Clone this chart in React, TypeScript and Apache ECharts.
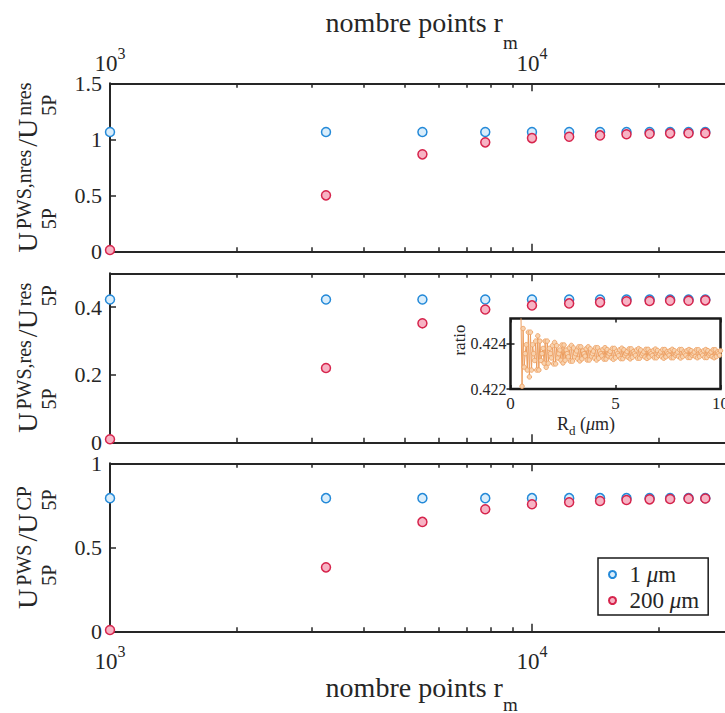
import React, { useEffect, useRef } from "react";
import * as echarts from "echarts";

const FONT = '"Liberation Serif", "Times New Roman", serif';
const INK = "#262626";
const FRAME = "#1a1a1a";
const BLUE_EDGE = "#2389d8";
const BLUE_FILL = "#d9edfb";
const RED_EDGE = "#d6244c";
const RED_FILL = "#f7b3c4";
const ORANGE_EDGE = "#ec9d5e";
const ORANGE_FILL = "#f8d2ae";

// ---------- data ----------
const rmPoints = [1000, 3250, 5500, 7750, 10000, 12250, 14500, 16750, 19000, 21250, 23500, 25750];
const seriesNames = ["1 μm", "200 μm"];

const nresBlue = [1.066, 1.066, 1.066, 1.066, 1.066, 1.066, 1.066, 1.066, 1.066, 1.066, 1.066, 1.066];
const nresRed = [0.015, 0.502, 0.867, 0.974, 1.012, 1.024, 1.036, 1.046, 1.05, 1.054, 1.055, 1.056];

const resBlue = [0.4225, 0.4225, 0.4225, 0.4225, 0.4225, 0.4225, 0.4225, 0.4225, 0.4225, 0.4225, 0.4225, 0.4225];
const resRed = [0.009, 0.22, 0.352, 0.393, 0.405, 0.411, 0.414, 0.417, 0.418, 0.419, 0.419, 0.42];

const cpBlue = [0.793, 0.793, 0.793, 0.793, 0.793, 0.793, 0.793, 0.793, 0.793, 0.793, 0.793, 0.793];
const cpRed = [0.01, 0.382, 0.652, 0.727, 0.757, 0.769, 0.776, 0.782, 0.786, 0.788, 0.79, 0.791];

const X_MIN = 1000;
const X_MAX = 30000;
const xMajorTicks = [1000, 10000];
const xMinorTicks = [2000, 3000, 4000, 5000, 6000, 7000, 8000, 9000, 20000, 30000];
const nresTicks = [0, 0.5, 1, 1.5];
const resTicks = [0, 0.2, 0.4];
const cpTicks = [0, 0.5, 1];

// inset: ratio vs R_d (μm), sampled every 0.05 μm from 0.5 μm
const rdStart = 0.5;
const rdStep = 0.05;
const insetXTicks = [0, 5, 10];
const insetYTicks = [0.422, 0.424];
const insetRatio = [
  0.4251, 0.42212, 0.42465, 0.42296,
  0.42355, 0.42394, 0.42283, 0.42449, 0.42253, 0.42449, 0.42283, 0.42394,
  0.42355, 0.42325, 0.4241, 0.42283, 0.42433, 0.42283, 0.4241, 0.42325,
  0.42355, 0.42378, 0.42313, 0.4241, 0.42295, 0.4241, 0.42313, 0.42378,
  0.42355, 0.42336, 0.4239, 0.4231, 0.42404, 0.4231, 0.4239, 0.42336,
  0.42355, 0.42371, 0.42326, 0.42393, 0.42314, 0.42393, 0.42326, 0.42371,
  0.42355, 0.42341, 0.4238, 0.42322, 0.42391, 0.42322, 0.4238, 0.42341,
  0.42355, 0.42367, 0.42332, 0.42385, 0.42323, 0.42385, 0.42332, 0.42367,
  0.42355, 0.42344, 0.42376, 0.42327, 0.42385, 0.42327, 0.42376, 0.42344,
  0.42355, 0.42366, 0.42335, 0.42381, 0.42327, 0.42381, 0.42335, 0.42366,
  0.42355, 0.42345, 0.42373, 0.42331, 0.42381, 0.42331, 0.42373, 0.42345,
  0.42355, 0.42365, 0.42337, 0.42378, 0.4233, 0.42378, 0.42337, 0.42365,
  0.42355, 0.42346, 0.42372, 0.42333, 0.42379, 0.42333, 0.42372, 0.42346,
  0.42355, 0.42364, 0.42339, 0.42376, 0.42332, 0.42376, 0.42339, 0.42364,
  0.42355, 0.42347, 0.42371, 0.42335, 0.42377, 0.42335, 0.42371, 0.42347,
  0.42355, 0.42363, 0.4234, 0.42374, 0.42334, 0.42374, 0.4234, 0.42363,
  0.42355, 0.42347, 0.42369, 0.42337, 0.42375, 0.42337, 0.42369, 0.42347,
  0.42355, 0.42363, 0.42341, 0.42373, 0.42335, 0.42373, 0.42341, 0.42363,
  0.42355, 0.42348, 0.42368, 0.42337, 0.42374, 0.42337, 0.42368, 0.42348,
  0.42355, 0.42362, 0.42342, 0.42373, 0.42336, 0.42373, 0.42342, 0.42362,
  0.42355, 0.42348, 0.42368, 0.42338, 0.42373, 0.42338, 0.42368, 0.42348,
  0.42355, 0.42362, 0.42342, 0.42372, 0.42337, 0.42372, 0.42342, 0.42362,
  0.42355, 0.42348, 0.42368, 0.42338, 0.42373, 0.42338, 0.42368, 0.42348,
  0.42355, 0.42362, 0.42342, 0.42372, 0.42337, 0.42372, 0.42342, 0.42362,
  0.42355, 0.42348, 0.42368,
];

// ---------- layout ----------
const PANEL_LEFT = 110;
const PANEL_WIDTH = 623.3;

type Part = { main?: string; sup?: string; sub?: string };

const panels = [
  {
    top: 83.3, height: 168.4, min: 0, max: 1.5, ticks: nresTicks, blue: nresBlue, red: nresRed,
    label: [{ main: "U" }, { sup: "PWS,nres", sub: "5P" }, { main: "/U" }, { sup: "nres", sub: "5P" }] as Part[],
  },
  {
    top: 273.3, height: 169, min: 0, max: 0.5, ticks: resTicks, blue: resBlue, red: resRed,
    label: [{ main: "U" }, { sup: "PWS,res", sub: "5P" }, { main: "/U" }, { sup: "res", sub: "5P" }] as Part[],
  },
  {
    top: 463.3, height: 168.4, min: 0, max: 1, ticks: cpTicks, blue: cpBlue, red: cpRed,
    label: [{ main: "U" }, { sup: "PWS", sub: "5P" }, { main: "/U" }, { sup: "CP", sub: "5P" }] as Part[],
  },
];

function textWidth(text: string, size: number, style: string = "normal") {
  const el = new (echarts.graphic as any).Text({
    style: { text, fontSize: size, fontFamily: FONT, fontStyle: style },
  });
  return el.getBoundingRect().width;
}

function rotText(text: string, size: number, x: number, y: number) {
  return {
    type: "text",
    x,
    y,
    rotation: Math.PI / 2,
    silent: true,
    style: { text, fontSize: size, fontFamily: FONT, fill: INK, align: "left", verticalAlign: "middle" },
  };
}

function buildYLabel(parts: Part[], centerY: number) {
  const MAIN = 28;
  const SCR = 20;
  const GAP = 3;
  const X_MAIN = 27.5;
  const X_SUP = 24;
  const X_SUB = 48.5;
  const widths = parts.map((p) =>
    p.main ? textWidth(p.main, MAIN) : Math.max(textWidth(p.sup || "", SCR), textWidth(p.sub || "", SCR))
  );
  const total = widths.reduce((a, b) => a + b, 0) + GAP * (parts.length - 1);
  let y = centerY + total / 2;
  const els: any[] = [];
  parts.forEach((p, i) => {
    if (p.main) els.push(rotText(p.main, MAIN, X_MAIN, y));
    else {
      els.push(rotText(p.sup || "", SCR, X_SUP, y));
      els.push(rotText(p.sub || "", SCR, X_SUB, y));
    }
    y -= widths[i] + GAP;
  });
  return els;
}

function logAxis(grid: number, position: string, major: boolean, labels: boolean) {
  return {
    type: "log",
    logBase: 10,
    gridIndex: grid,
    position,
    min: X_MIN,
    max: X_MAX,
    axisLine: { show: major, lineStyle: { color: INK, width: 2 } },
    axisTick: {
      show: true,
      inside: true,
      length: major ? 8 : 4.5,
      customValues: major ? xMajorTicks : xMinorTicks,
      lineStyle: { color: INK, width: 1.5 },
    },
    axisLabel: {
      show: labels,
      customValues: xMajorTicks,
      margin: position === "top" ? 2 : 12,
      formatter: (v: number) => `{b|10}{s|${Math.round(Math.log10(v))}}`,
      rich: {
        b: { fontSize: 23, fontFamily: FONT, color: INK },
        s: { fontSize: 16, fontFamily: FONT, color: INK, padding: [0, 0, 20, 0] },
      },
    },
    splitLine: { show: false },
    minorTick: { show: false },
    minorSplitLine: { show: false },
  };
}

function scatter(name: string, ys: number[], xi: number, yi: number, edge: string, fill: string) {
  return {
    type: "scatter",
    name,
    xAxisIndex: xi,
    yAxisIndex: yi,
    data: rmPoints.map((x, i) => [x, ys[i]]),
    symbol: "circle",
    symbolSize: 9,
    clip: false,
    itemStyle: { color: fill, borderColor: edge, borderWidth: 1.5, opacity: 1 },
    emphasis: { disabled: true },
  };
}

function buildOption() {
  const grids: any[] = [];
  const xAxes: any[] = [];
  const yAxes: any[] = [];
  const series: any[] = [];
  const graphics: any[] = [];

  panels.forEach((p, g) => {
    grids.push({ left: PANEL_LEFT, top: p.top, width: PANEL_WIDTH, height: p.height });
    xAxes.push(logAxis(g, "bottom", true, g === 2));
    xAxes.push(logAxis(g, "bottom", false, false));
    xAxes.push(logAxis(g, "top", true, g === 0));
    xAxes.push(logAxis(g, "top", false, false));
    yAxes.push({
      type: "value",
      gridIndex: g,
      position: "left",
      min: p.min,
      max: p.max,
      axisLine: { show: true, lineStyle: { color: INK, width: 2 } },
      axisTick: { show: true, inside: true, length: 6, customValues: p.ticks, lineStyle: { color: INK, width: 1.5 } },
      axisLabel: { customValues: p.ticks, margin: 8, fontSize: 22, lineHeight: 17, fontFamily: FONT, color: INK },
      splitLine: { show: false },
    });
    series.push(scatter(seriesNames[0], p.blue, 4 * g, g, BLUE_EDGE, BLUE_FILL));
    series.push(scatter(seriesNames[1], p.red, 4 * g, g, RED_EDGE, RED_FILL));
    graphics.push(...buildYLabel(p.label, p.top + p.height / 2));
  });

  // inset
  grids.push({
    left: 510.5, top: 318.5, width: 210, height: 70.5,
    show: true, backgroundColor: "#ffffff", borderColor: FRAME, borderWidth: 2.5,
  });
  const insetTickStyle = { color: FRAME, width: 1.5 };
  xAxes.push({
    type: "value", gridIndex: 3, position: "bottom", min: 0, max: 10,
    axisLine: { show: false },
    axisTick: { show: true, inside: true, length: 4, customValues: insetXTicks, lineStyle: insetTickStyle },
    axisLabel: { customValues: insetXTicks, margin: 7, fontSize: 17, lineHeight: 14, fontFamily: FONT, color: INK },
    splitLine: { show: false },
  });
  xAxes.push({
    type: "value", gridIndex: 3, position: "top", min: 0, max: 10,
    axisLine: { show: false },
    axisTick: { show: true, inside: true, length: 4, customValues: insetXTicks, lineStyle: insetTickStyle },
    axisLabel: { show: false },
    splitLine: { show: false },
  });
  yAxes.push({
    type: "value", gridIndex: 3, position: "left", min: 0.422, max: 0.42509,
    axisLine: { show: false },
    axisTick: { show: true, inside: true, length: 4, customValues: insetYTicks, lineStyle: insetTickStyle },
    axisLabel: {
      customValues: insetYTicks, margin: 4, fontSize: 16, fontFamily: FONT, color: INK,
      formatter: (v: number) => v.toFixed(3),
    },
    splitLine: { show: false },
  });
  yAxes.push({
    type: "value", gridIndex: 3, position: "right", min: 0.422, max: 0.42509,
    axisLine: { show: false },
    axisTick: { show: true, inside: true, length: 4, customValues: insetYTicks, lineStyle: insetTickStyle },
    axisLabel: { show: false },
    splitLine: { show: false },
  });
  series.push({
    type: "line",
    name: "ratio",
    xAxisIndex: 12,
    yAxisIndex: 3,
    data: insetRatio.map((v, i) => [rdStart + i * rdStep, v]),
    symbol: "circle",
    symbolSize: 4.5,
    showSymbol: true,
    showAllSymbol: true,
    lineStyle: { color: ORANGE_EDGE, width: 1 },
    itemStyle: { color: ORANGE_FILL, borderColor: ORANGE_EDGE, borderWidth: 0.8 },
    emphasis: { disabled: true },
    z: 5,
  });

  // titles
  const titleRich = (drop: number) => ({
    t: { fontSize: 28, fontFamily: FONT },
    m: { fontSize: 19, fontFamily: FONT, padding: [drop, 0, 0, 0] },
  });
  graphics.push({
    type: "text", x: PANEL_LEFT + PANEL_WIDTH / 2, y: 22, silent: true,
    style: { text: "{t|nombre points r}{m|m}", rich: titleRich(40), fill: INK, align: "center", verticalAlign: "middle" },
  });
  graphics.push({
    type: "text", x: PANEL_LEFT + PANEL_WIDTH / 2, y: 687, silent: true,
    style: { text: "{t|nombre points r}{m|m}", rich: titleRich(34), fill: INK, align: "center", verticalAlign: "middle" },
  });
  // inset labels
  graphics.push({
    type: "text", x: 459, y: 340, rotation: Math.PI / 2, silent: true,
    style: { text: "ratio", fontSize: 17, fontFamily: FONT, fill: INK, align: "center", verticalAlign: "middle" },
  });
  graphics.push({
    type: "text", x: 557, y: 424, silent: true,
    style: {
      text: "{n|R}{d|d}{n| (}{i|μ}{n|m)}",
      fill: INK,
      align: "left",
      verticalAlign: "middle",
      rich: {
        n: { fontSize: 18, fontFamily: FONT, lineHeight: 15 },
        d: { fontSize: 13, fontFamily: FONT, lineHeight: 10, padding: [12, 0, 0, 0] },
        i: { fontSize: 18, fontFamily: FONT, fontStyle: "italic", lineHeight: 15 },
      },
    },
  });

  return {
    animation: false,
    backgroundColor: "#ffffff",
    grid: grids,
    xAxis: xAxes,
    yAxis: yAxes,
    series,
    graphic: graphics,
    legend: {
      data: seriesNames,
      orient: "vertical",
      left: 598,
      top: 558,
      itemWidth: 24,
      itemHeight: 7,
      itemGap: 3,
      padding: [5, 9, 3, 10],
      borderColor: FRAME,
      borderWidth: 1.5,
      backgroundColor: "#ffffff",
      icon: "circle",
      selectedMode: false,
      formatter: (n: string) => n.replace("μ", "{i|μ}"),
      textStyle: {
        fontSize: 23,
        fontFamily: FONT,
        color: INK,
        rich: { i: { fontSize: 23, fontFamily: FONT, fontStyle: "italic", color: INK } },
      },
    },
  };
}

export default function App() {
  const ref = useRef<HTMLDivElement>(null);
  useEffect(() => {
    if (!ref.current) return;
    const chart = echarts.init(ref.current, undefined, { renderer: "svg" });
    chart.setOption(buildOption() as any);
    return () => chart.dispose();
  }, []);
  return (
    <div
      style={{
        position: "fixed",
        left: 0,
        top: 0,
        width: 725,
        height: 713,
        overflow: "hidden",
        background: "#ffffff",
      }}
    >
      <div ref={ref} style={{ width: 760, height: 713 }} />
    </div>
  );
}
